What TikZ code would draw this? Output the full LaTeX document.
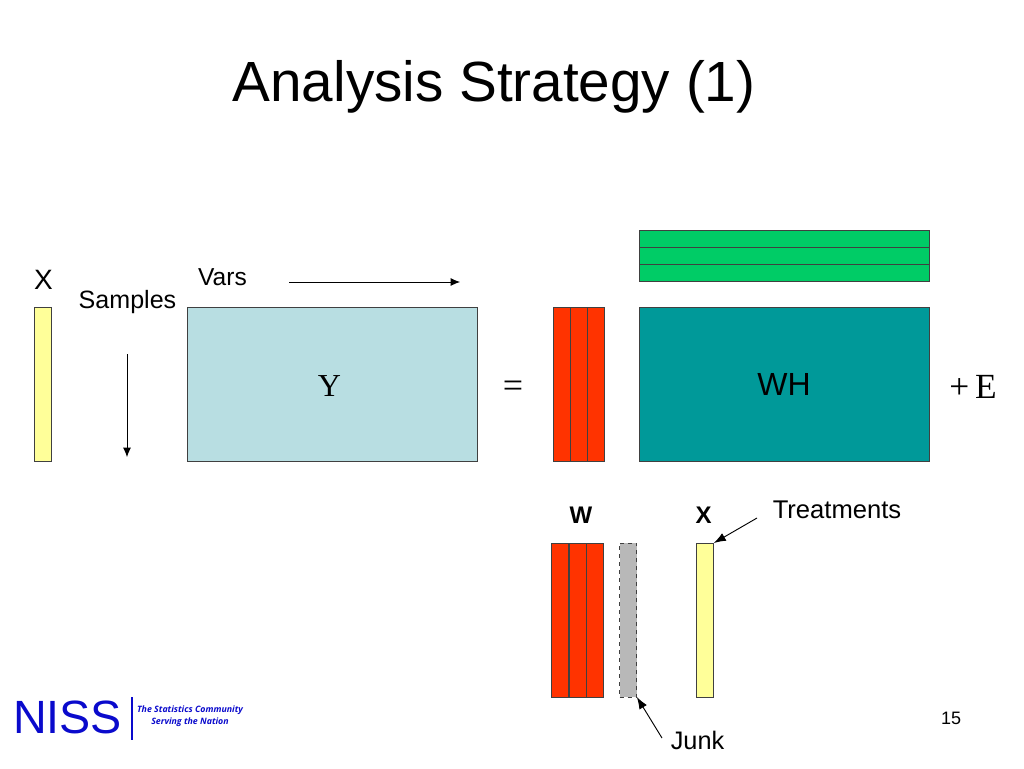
\documentclass[tikz,border=0pt]{standalone}
\usepackage{fontspec}
\setmainfont{Liberation Sans}
\newfontfamily\serifF{Liberation Serif}
\newfontfamily\tagF{Open Sans}
\usetikzlibrary{arrows.meta}
\definecolor{ylw}{HTML}{FFFF99}
\definecolor{lblue}{HTML}{B8DEE2}
\definecolor{redo}{HTML}{FF3300}
\definecolor{teal2}{HTML}{009999}
\definecolor{grn}{HTML}{00CC66}
\definecolor{gry}{HTML}{B8B8B8}
\definecolor{nissblue}{HTML}{0A0ACC}
\newcommand{\fs}[1]{\fontsize{#1}{#1}\selectfont}
\tikzset{
  x=0.75pt,y=-0.75pt,
  bar/.style={draw=black!75,line width=0.75pt,inner sep=0,outer sep=0,anchor=north west},
  lbl/.style={inner sep=0,outer sep=0,text=black},
  conn/.style={draw=black,line width=0.7pt,-{Latex[length=7pt,width=6pt]}},
  connbig/.style={draw=black,line width=0.7pt,-{Latex[length=9pt,width=6.5pt]}}
}
\begin{document}
\begin{tikzpicture}
\useasboundingbox (0,0) rectangle (1024,768);
\node[lbl] (title) at (494,87) {\fs{42.5}Analysis Strategy (1)};
% left bar and Y
\node[bar,fill=ylw,minimum width=12.75pt,minimum height=115.5pt] (xbar) at (34,307) {};
\node[bar,fill=lblue,minimum width=217.5pt,minimum height=115.5pt] (y) at (187,307) {};
\node[lbl] at (329.5,386) {\serifF\fs{24}Y};
\node[lbl] (xl) at (43.5,279.5) {\fs{21}X};
\node[lbl] (samples) at (127.5,302) {\fs{18.8}Samples};
\node[lbl] (vars) at (222.5,277.5) {\fs{18.4}Vars};
\coordinate (s1) at (127,354); \coordinate (s2) at (127,457);
\coordinate (v1) at (289,282); \coordinate (v2) at (460,282);
\draw[conn] (s1) -- (s2);
\draw[conn] (v1) -- (v2);
% equation
\node[lbl] (eq) at (513,389) {\serifF\fs{27}=};
\node[bar,fill=redo,minimum width=13pt,minimum height=115.5pt] (r1) at (553.5,307) {};
\node[bar,fill=redo,minimum width=12.75pt,minimum height=115.5pt] (r2) at (570.5,307) {};
\node[bar,fill=redo,minimum width=13pt,minimum height=115.5pt] (r3) at (587.5,307) {};
\node[bar,fill=teal2,minimum width=217.5pt,minimum height=115.5pt] (wh) at (639,307) {};
\node[lbl] at (784,384) {\fs{24}WH};
\node[lbl] (pe) at (973,387) {\serifF\fs{26.5}+\,E};
\node[bar,fill=grn,minimum width=217.5pt,minimum height=12.75pt] (g1) at (639,230.5) {};
\node[bar,fill=grn,minimum width=217.5pt,minimum height=12.75pt] (g2) at (639,247.5) {};
\node[bar,fill=grn,minimum width=217.5pt,minimum height=12.75pt] (g3) at (639,264.5) {};
% lower group
\node[lbl] (wl) at (581,515.5) {\fs{18}\bfseries W};
\node[lbl] (xl2) at (703.5,515.5) {\fs{18}\bfseries X};
\node[lbl] (tr) at (837,509.5) {\fs{19.2}Treatments};
\node[lbl] (junk) at (697.5,740) {\fs{19}Junk};
\node[bar,fill=redo,minimum width=13pt,minimum height=115.5pt] (w1) at (551.5,543) {};
\node[bar,fill=redo,minimum width=12.75pt,minimum height=115.5pt] (w2) at (569,543) {};
\node[bar,fill=redo,minimum width=13pt,minimum height=115.5pt] (w3) at (586,543) {};
\node[bar,fill=gry,dashed,minimum width=13pt,minimum height=115.5pt] (jb) at (619.5,543) {};
\node[bar,fill=ylw,minimum width=13pt,minimum height=115.5pt] (xb2) at (696.5,543) {};
\coordinate (t1) at (757,518); \coordinate (j1) at (662,738);
\draw[connbig] (t1) -- (xb2.north east);
\draw[connbig] (j1) -- (jb.south east);
% page number
\node[lbl] (pg) at (951,718) {\fs{13.5}15};
% logo
\node[lbl,text=nissblue] (niss) at (67.5,717.5) {\fs{35}NISS};
\coordinate (l1) at (132,697); \coordinate (l2) at (132,740);
\draw[nissblue,line width=1pt] (l1) -- (l2);
\node[lbl,text=nissblue,align=center] (tag) at (190,716.5) {\tagF\fs{6.6}\bfseries\itshape The Statistics Community\\[-3pt]\tagF\fs{6.6}\bfseries\itshape Serving the Nation};
\end{tikzpicture}
\end{document}
